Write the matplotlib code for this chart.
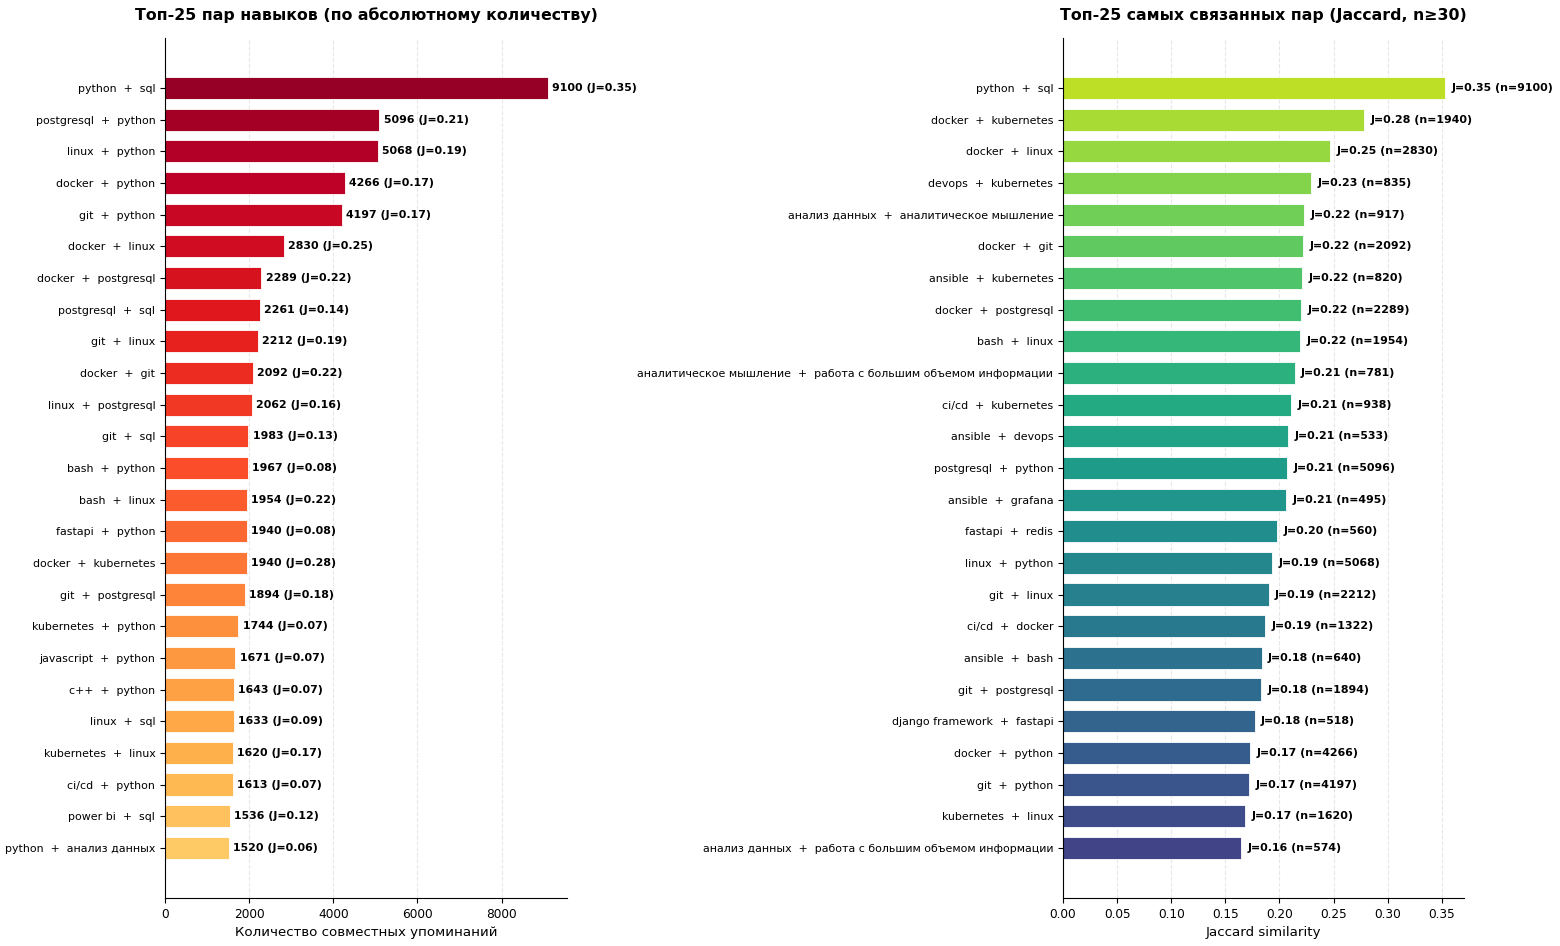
import matplotlib
matplotlib.use("Agg")
import matplotlib.pyplot as plt
import numpy as np

# Left chart data: top-25 pairs by absolute count
count_pairs = [
    "python  +  sql", "postgresql  +  python", "linux  +  python", "docker  +  python",
    "git  +  python", "docker  +  linux", "docker  +  postgresql", "postgresql  +  sql",
    "git  +  linux", "docker  +  git", "linux  +  postgresql", "git  +  sql",
    "bash  +  python", "bash  +  linux", "fastapi  +  python", "docker  +  kubernetes",
    "git  +  postgresql", "kubernetes  +  python", "javascript  +  python", "c++  +  python",
    "linux  +  sql", "kubernetes  +  linux", "ci/cd  +  python", "power bi  +  sql",
    "python  +  анализ данных",
]
count_values = [9100, 5096, 5068, 4266, 4197, 2830, 2289, 2261, 2212, 2092, 2062, 1983,
                1967, 1954, 1940, 1940, 1894, 1744, 1671, 1643, 1633, 1620, 1613, 1536, 1520]
count_jaccard = [0.35, 0.21, 0.19, 0.17, 0.17, 0.25, 0.22, 0.14, 0.19, 0.22, 0.16, 0.13,
                 0.08, 0.22, 0.08, 0.28, 0.18, 0.07, 0.07, 0.07, 0.09, 0.17, 0.07, 0.12, 0.06]

# Right chart data: top-25 pairs by Jaccard similarity
jac_pairs = [
    "python  +  sql", "docker  +  kubernetes", "docker  +  linux", "devops  +  kubernetes",
    "анализ данных  +  аналитическое мышление", "docker  +  git", "ansible  +  kubernetes",
    "docker  +  postgresql", "bash  +  linux",
    "аналитическое мышление  +  работа с большим объемом информации",
    "ci/cd  +  kubernetes", "ansible  +  devops", "postgresql  +  python", "ansible  +  grafana",
    "fastapi  +  redis", "linux  +  python", "git  +  linux", "ci/cd  +  docker",
    "ansible  +  bash", "git  +  postgresql", "django framework  +  fastapi",
    "docker  +  python", "git  +  python", "kubernetes  +  linux",
    "анализ данных  +  работа с большим объемом информации",
]
jac_values = [0.353, 0.278, 0.247, 0.229, 0.223, 0.222, 0.221, 0.220, 0.219, 0.214,
              0.211, 0.208, 0.2074, 0.2065, 0.198, 0.1935, 0.190, 0.187, 0.1835, 0.183,
              0.177, 0.1725, 0.172, 0.168, 0.1645]
jac_counts = [9100, 1940, 2830, 835, 917, 2092, 820, 2289, 1954, 781, 938, 533, 5096, 495,
              560, 5068, 2212, 1322, 640, 1894, 518, 4266, 4197, 1620, 574]

s = 0.876  # font scale

fig = plt.figure(figsize=(15.6, 9.46), dpi=100)
ax1 = fig.add_axes([0.1058, 0.0507, 0.2577, 0.9093])
ax2 = fig.add_axes([0.6814, 0.0507, 0.2571, 0.9093])

n = len(count_pairs)
y = np.arange(n)

# Left
colors1 = plt.cm.YlOrRd(np.linspace(0.95, 0.3, n))
ax1.barh(y, count_values, height=0.7, color=colors1, edgecolor="white", linewidth=0.6)
ax1.set_yticks(y)
ax1.set_yticklabels(count_pairs, fontsize=9 * s)
ax1.invert_yaxis()
ax1.set_xlim(0, max(count_values) * 1.05)
for yi, v, j in zip(y, count_values, count_jaccard):
    ax1.text(v + 100, yi, f"{v} (J={j:.2f})", va="center", ha="left",
             fontsize=9 * s, fontweight="bold")
ax1.set_xlabel("Количество совместных упоминаний", fontsize=11 * s)
ax1.set_title("Топ-25 пар навыков (по абсолютному количеству)", fontsize=13 * s,
              fontweight="bold", pad=13)
ax1.grid(axis="x", linestyle="--", alpha=0.3)
ax1.set_axisbelow(True)

# Right
colors2 = plt.cm.viridis(np.linspace(0.9, 0.2, n))
ax2.barh(y, jac_values, height=0.7, color=colors2, edgecolor="white", linewidth=0.6)
ax2.set_yticks(y)
ax2.set_yticklabels(jac_pairs, fontsize=9 * s)
ax2.invert_yaxis()
ax2.set_xlim(0, max(jac_values) * 1.05)
for yi, v, c in zip(y, jac_values, jac_counts):
    ax2.text(v + 0.006, yi, f"J={v:.2f} (n={c})", va="center", ha="left",
             fontsize=9 * s, fontweight="bold")
ax2.set_xlabel("Jaccard similarity", fontsize=11 * s)
ax2.set_title("Топ-25 самых связанных пар (Jaccard, n≥30)", fontsize=13 * s,
              fontweight="bold", pad=13)
ax2.grid(axis="x", linestyle="--", alpha=0.3)
ax2.set_axisbelow(True)

for ax in (ax1, ax2):
    ax.spines["top"].set_visible(False)
    ax.spines["right"].set_visible(False)
    ax.tick_params(axis="x", labelsize=10 * s)

fig.savefig("out.png", dpi=100)
